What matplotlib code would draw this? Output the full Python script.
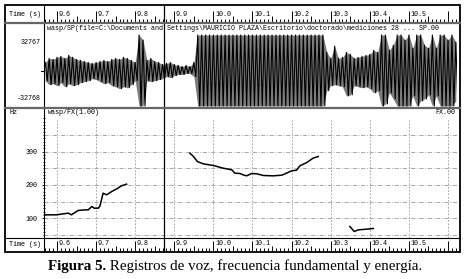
import numpy as np
import matplotlib.pyplot as plt
from matplotlib.patches import Rectangle

# --- data ---
# speech waveform: positive and negative peak per 10 ms (sample units, clipped at 32767)
wave_t = np.round(np.arange(9.57, 10.625, 0.01), 2)
wave_hi = ([7500, 11200, 10300, 12200, 13100, 11200, 14000, 12200, 10300, 9400,
            8400, 7500, 6600, 7500, 8400, 9400, 8400, 10300, 11200, 10300,
            12200, 11200, 9400, 7500, 32767, 28100, 9400, 11200, 8400, 7500,
            5600, 6600, 7500, 5600, 4700, 3700, 4700, 3700, 7500]
           + [32767] * 33
           + [16800, 11200, 22500, 11200, 12200, 16800, 15000, 11200, 12200, 13100,
              14000, 15000, 18700, 16800, 32767, 32767, 18700, 23400, 32767, 32767,
              28100, 32767, 20600, 32767, 32767, 23400, 20600, 32767, 20600, 32767,
              32767, 28100, 32767, 26200])
wave_lo = ([9400, 13100, 12200, 14000, 11200, 15000, 12200, 14000, 13100, 11200,
            10300, 9400, 7500, 8400, 10300, 12200, 11200, 14000, 15000, 16800,
            15000, 15900, 13100, 9400, 32768, 32768, 9400, 10300, 9400, 8400,
            7500, 5600, 6600, 4700, 3700, 3700, 2800, 2800, 5600]
           + [32768] * 33
           + [18700, 14000, 13100, 14000, 15000, 23400, 22500, 14000, 15000, 15900,
              15000, 16800, 20600, 18700, 32768, 30900, 20600, 26200, 32768, 32768,
              32768, 32768, 23400, 32768, 28100, 26200, 22500, 32768, 23400, 32768,
              32768, 32768, 32768, 28100])

# fundamental frequency contour (Hz), three voiced stretches
f0_t1 = [9.569, 9.599, 9.616, 9.629, 9.637, 9.646, 9.654, 9.672, 9.680, 9.689,
         9.695, 9.706, 9.710, 9.718, 9.727, 9.740, 9.753, 9.765, 9.778]
f0_hz1 = [110, 110, 113, 115, 110, 117, 123, 125, 125, 135,
          130, 130, 137, 175, 170, 180, 188, 197, 202]
f0_t2 = [9.940, 9.949, 9.959, 9.974, 10.000, 10.025, 10.047, 10.055, 10.068, 10.076,
         10.085, 10.098, 10.111, 10.128, 10.153, 10.175, 10.187, 10.200, 10.213, 10.221,
         10.239, 10.255, 10.268]
f0_hz2 = [295, 285, 270, 263, 258, 250, 245, 235, 234, 230,
          227, 234, 233, 228, 227, 229, 235, 242, 244, 257,
          267, 280, 285]
f0_t3 = [10.349, 10.360, 10.371, 10.392, 10.409]
f0_hz3 = [75, 60, 65, 67, 69]

ruler_major = [9.6, 9.7, 9.8, 9.9, 10.0, 10.1, 10.2, 10.3, 10.4, 10.5]
ruler_labels = ['9.6', '9.7', '9.8', '9.9', '10.0', '10.1', '10.2', '10.3', '10.4', '10.5']
hz_ticks = [100, 200, 300]
cursor_t = 9.874

header = ('wasp/SP(file=C:\\Documents and Settings\\MAURICIO PLAZA\\Escritorio'
          '\\doctorado\\mediciones 28 ... SP.00')
caption_bold = 'Figura 5.'
caption_rest = ' Registros de voz, frecuencia fundamental y energía.'

# --- layout (pixels) ---
W, H = 466, 279
T0, T1 = 9.5668, 10.623
mono = 'Liberation Mono'
fs = 4.9

fig = plt.figure(figsize=(W / 100, H / 100), dpi=100)


def box(x0, y0, x1, y1):
    ax = fig.add_axes([x0 / W, 1 - y1 / H, (x1 - x0) / W, (y1 - y0) / H])
    ax.set_xlim(T0, T1)
    return ax


ticks_t = np.round(np.arange(9.57, 10.625, 0.01), 2)
is_major = np.isclose(ticks_t * 10, np.round(ticks_t * 10))
is_mid = np.isclose(ticks_t * 20, np.round(ticks_t * 20)) & ~is_major


def ruler(y0, y1, major_h, mid_h, minor_h, label_y):
    ax = box(44, y0, 457, y1)
    ax.set_ylim(0, y1 - y0)
    ax.axis('off')
    hts = np.where(is_major, major_h, np.where(is_mid, mid_h, minor_h))
    ax.vlines(ticks_t, 0, hts, color='k', lw=0.7)
    for t, lab in zip(ruler_major, ruler_labels):
        ax.annotate(lab, (t, label_y), xytext=(1.2, 0), textcoords='offset points',
                    ha='left', va='center', fontsize=fs, family=mono)
    ax.axvline(cursor_t, color='k', lw=0.9)
    return ax


ruler(6, 22, 11.5, 6, 3.5, 8)
ruler(238.5, 251, 10, 5.5, 3, 7.7)

# waveform panel
aw = box(44, 23, 457, 107.5)
full = 32768 / 35.5
aw.set_ylim(-37 * full, 47.5 * full)
aw.axis('off')
hi = np.array(wave_hi)
lo = -np.array(wave_lo)
aw.fill_between(wave_t, hi, lo, color='#7c7c7c', lw=0)
zx = np.column_stack([wave_t, wave_t + 0.005]).ravel()
zy = np.column_stack([hi, lo]).ravel()
aw.plot(zx, zy, color='k', lw=0.8)
aw.axvline(cursor_t, color='k', lw=0.9)

# F0 panel
af = box(44, 108, 457, 238)
af.set_ylim(40.5, 430.5)
for s in af.spines.values():
    s.set_visible(False)
af.set_xticks([])
af.set_yticks(hz_ticks)
af.set_yticklabels([str(v) for v in hz_ticks], family=mono, fontsize=fs)
af.set_yticks(np.arange(50, 410, 10), minor=True)
af.tick_params(axis='y', which='both', direction='inout', width=0.6, pad=3.2)
af.tick_params(axis='y', which='major', length=3)
af.tick_params(axis='y', which='minor', length=2)
af.vlines(ruler_major + [10.6], 40.5, 400, color='#9a9a9a', lw=0.6, ls=(0, (2, 2)))
af.hlines(np.arange(50, 400, 50), T0, T1, color='#9a9a9a', lw=0.6, ls=(0, (5, 2, 1, 2)))
for t, hz in [(f0_t1, f0_hz1), (f0_t2, f0_hz2), (f0_t3, f0_hz3)]:
    af.plot(t, hz, color='k', lw=1.1)
af.axvline(cursor_t, color='k', lw=0.9)

# frame, separators and labels in pixel coordinates
ov = fig.add_axes([0, 0, 1, 1])
ov.set_xlim(0, W)
ov.set_ylim(H, 0)
ov.axis('off')
ov.add_patch(Rectangle((5, 5), 455, 247, fill=False, ec='k', lw=1.3))
ov.plot([44, 44], [5, 252], color='k', lw=0.8)
ov.plot([5, 460], [22.6, 22.6], color='#666666', lw=1.6)
ov.plot([5, 460], [108, 108], color='#666666', lw=1.6)
ov.plot([5, 460], [238.3, 238.3], color='k', lw=0.8)
ov.plot([41, 44], [70.5, 70.5], color='k', lw=0.7)

ov.text(9, 14, 'Time (s)', family=mono, fontsize=fs, va='center')
ov.text(9, 245, 'Time (s)', family=mono, fontsize=fs, va='center')
ov.text(41, 43, '32767', family=mono, fontsize=fs, va='center', ha='right')
ov.text(41, 99, '-32768', family=mono, fontsize=fs, va='center', ha='right')
ov.text(47, 29, header, family=mono, fontsize=4.8, va='center')
ov.text(9, 113, 'Hz', family=mono, fontsize=fs, va='center')
ov.text(48, 113, 'wasp/FX(1.00)', family=mono, fontsize=fs, va='center')
ov.text(455, 113, 'FX.00', family=mono, fontsize=fs, va='center', ha='right')

t1 = ov.text(48, 270, caption_bold, family='Liberation Serif', fontweight='bold',
             fontsize=10.8, va='baseline')
ov.annotate(caption_rest, xy=(1, 0), xycoords=t1, va='bottom', ha='left',
            family='Liberation Serif', fontsize=10.8)

fig.savefig('out.png', dpi=100)
